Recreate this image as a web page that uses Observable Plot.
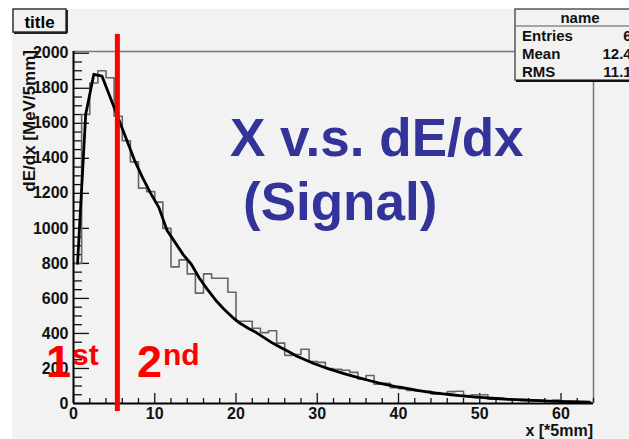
<!DOCTYPE html>
<html><head><meta charset="utf-8">
<script src="https://cdn.jsdelivr.net/npm/d3@7"></script>
<script src="https://cdn.jsdelivr.net/npm/@observablehq/plot@0.6"></script>
<style>
body{margin:0;background:#fff;}
#wrap{position:relative;width:629px;height:439px;overflow:hidden;font-family:"Liberation Sans",Arial,sans-serif;}
#pad{position:absolute;left:12px;top:9px;right:0;bottom:0;background:#f2f2f2;}
#chart{position:absolute;left:0;top:0;}
#over{position:absolute;left:0;top:0;}
#over text{font-family:"Liberation Sans",Arial,sans-serif;font-weight:bold;}
</style></head><body>
<div id="wrap"><div id="pad"></div><div id="chart"></div>
<svg id="over" width="629" height="439">
  <rect x="13" y="9" width="53" height="23" fill="#f2f2f2" stroke="#333" stroke-width="1.5"/>
  <line x1="14" y1="33" x2="67" y2="33" stroke="#222" stroke-width="2"/>
  <line x1="67" y1="10" x2="67" y2="33" stroke="#222" stroke-width="2"/>
  <text x="39.5" y="28" text-anchor="middle" font-size="17" fill="#000">title</text>

  <rect x="515" y="9" width="130" height="71" fill="#f2f2f2" stroke="#555" stroke-width="1.5"/>
  <line x1="516" y1="81" x2="645" y2="81" stroke="#111" stroke-width="2"/>
  <line x1="515" y1="26" x2="645" y2="26" stroke="#555" stroke-width="1.2"/>
  <text x="580" y="23" text-anchor="middle" font-size="15" fill="#111">name</text>
  <text x="522" y="41" font-size="15" fill="#111">Entries</text>
  <text x="522" y="59" font-size="15" fill="#111">Mean</text>
  <text x="522" y="77" font-size="15" fill="#111">RMS</text>
  <text x="640" y="41" text-anchor="end" font-size="15" fill="#111">64</text>
  <text x="640" y="59" text-anchor="end" font-size="15" fill="#111">12.45</text>
  <text x="640" y="77" text-anchor="end" font-size="15" fill="#111">11.17</text>

  <text transform="translate(35,50) rotate(-90)" text-anchor="end" font-size="17" fill="#111">dE/dx [MeV/5mm]</text>
  <text x="593" y="436" text-anchor="end" font-size="16" fill="#111">x [*5mm]</text>

  <text x="230" y="156" font-size="53" fill="#333399">X v.s. dE/dx</text>
  <text x="243" y="220" font-size="53" fill="#333399">(Signal)</text>

  <text x="46" y="377" font-size="45" fill="#ff0000">1</text>
  <text x="72" y="365" font-size="30" fill="#ff0000">st</text>
  <text x="137" y="377" font-size="45" fill="#ff0000">2</text>
  <text x="163" y="365" font-size="30" fill="#ff0000">nd</text>
</svg>
</div>
<script>
// histogram bin contents, bins [i, i+1) for i = 0..63
const histValues = [
  800, 1650, 1830, 1900, 1860, 1640, 1500, 1380, 1230, 1210,
  1150, 1000, 780, 820, 740, 630, 740, 715, 715, 635,
  470, 470, 430, 405, 415, 345, 275, 280, 310, 240,
  235, 200, 195, 190, 178, 140, 160, 110, 115, 90,
  85, 75, 72, 70, 55, 55, 68, 70, 45, 50,
  50, 25, 30, 25, 20, 18, 15, 18, 15, 20,
  12, 8, 6, 5
];
// smoothed curve values at bin centres
const fitValues = [
  800, 1650, 1880, 1870, 1750, 1630, 1510, 1390, 1290, 1200,
  1120, 990, 920, 850, 795, 715, 650, 590, 540, 495,
  458, 430, 405, 375, 345, 320, 295, 270, 250, 230,
  213, 196, 182, 168, 155, 142, 130, 118, 108, 98,
  90, 82, 74, 67, 60, 55, 50, 45, 41, 37,
  33, 30, 27, 24, 22, 20, 18, 16, 14, 12,
  11, 10, 9, 8
];
const yTickValues = [0, 200, 400, 600, 800, 1000, 1200, 1400, 1600, 1800, 2000];
const xTickValues = [0, 10, 20, 30, 40, 50, 60];
const yMinorValues = d3.range(0, 2001, 50).filter(v => v % 200 !== 0);
const xMinorValues = d3.range(0, 65, 2).filter(v => v % 10 !== 0);
const boundary = 5.4;
const xMax = 64, yMax = 2010;

const histPts = histValues.map((v, i) => ({x: i, y: v}));
histPts.push({x: histValues.length, y: histValues[histValues.length - 1]});
const fitPts = fitValues.map((v, i) => ({x: i + 0.5, y: v}));

const chart = Plot.plot({
  width: 629, height: 439,
  marginLeft: 73, marginRight: 36, marginTop: 51, marginBottom: 36,
  x: {domain: [0, xMax]},
  y: {domain: [0, yMax]},
  style: {background: "transparent", fontFamily: "Liberation Sans, Arial, sans-serif", color: "#111"},
  marks: [
    Plot.ruleY([yMax], {stroke: "#777", strokeWidth: 1.5}),
    Plot.ruleX([xMax], {stroke: "#777", strokeWidth: 1.5}),
    Plot.ruleY(yMinorValues, {y: d => d, x1: 0, x2: 1.1, stroke: "#111", strokeWidth: 1.3}),
    Plot.ruleY(yTickValues, {y: d => d, x1: 0, x2: 1.97, stroke: "#111", strokeWidth: 1.3}),
    Plot.ruleX(xMinorValues, {x: d => d, y1: 0, y2: 29, stroke: "#111", strokeWidth: 1.3}),
    Plot.ruleX(xTickValues, {x: d => d, y1: 0, y2: 57, stroke: "#111", strokeWidth: 1.3}),
    Plot.line(histPts, {x: "x", y: "y", curve: "step-after", stroke: "#666", strokeWidth: 1.6}),
    Plot.line(fitPts, {x: "x", y: "y", stroke: "#000", strokeWidth: 2.8}),
    Plot.ruleX([0], {stroke: "#000", strokeWidth: 2}),
    Plot.ruleY([0], {stroke: "#000", strokeWidth: 2}),
    Plot.axisY(yTickValues, {tickSize: 0, tickPadding: 5, label: null, tickFormat: d => String(d), fontSize: 16, fontWeight: "bold"}),
    Plot.axisX(xTickValues, {tickSize: 0, tickPadding: 4, label: null, tickFormat: d => String(d), fontSize: 16, fontWeight: "bold"}),
    Plot.ruleX([boundary], {y1: -46, y2: 2107, stroke: "#ff0000", strokeWidth: 5})
  ]
});
document.getElementById("chart").appendChild(chart);
</script>
</body></html>
